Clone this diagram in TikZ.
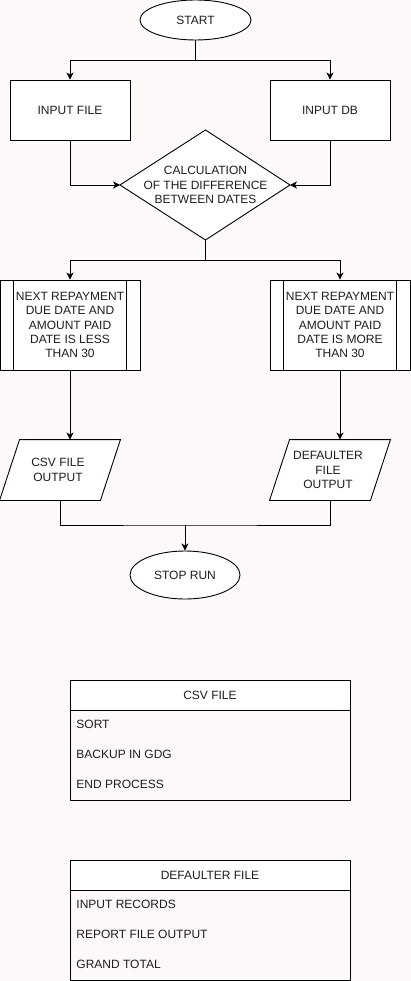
\documentclass[tikz,border=0pt]{standalone}
\usepackage{fontspec}
\setmainfont{Liberation Sans}
\usetikzlibrary{arrows.meta,shapes.geometric}
\definecolor{bg}{RGB}{253,249,248}
\definecolor{txt}{RGB}{30,30,30}
\begin{document}
\begin{tikzpicture}[x=1pt,y=-1pt,
  font=\fontsize{12}{14.4}\selectfont, text=txt,
  line width=0.9pt,
  arr/.style={-{Stealth[length=7pt,width=7pt,inset=2pt]}},
  term/.style={ellipse,draw,fill=white,inner sep=0pt},
  procbox/.style={rectangle,draw,fill=white,minimum width=120pt,minimum height=60pt,inner sep=0pt},
  subbox/.style={rectangle,draw,fill=white,minimum width=140pt,minimum height=90pt,inner sep=0pt,align=center},
  iobox/.style={rectangle,draw=none,minimum width=100pt,minimum height=60pt,inner sep=0pt,align=center},
  lbl/.style={anchor=west,inner sep=0pt},
]
\fill[bg] (0,0) rectangle (411,981);
\useasboundingbox (0,0) rectangle (411,981);

% start
\node[term,minimum width=111pt,minimum height=40pt] (start) at (195.5,20) {START};
\coordinate (j1) at (195.5,60);

\node[procbox] (infile) at (70,110) {INPUT FILE};
\node[procbox] (indb) at (330,110) {INPUT DB};

% diamond
\coordinate (calcL) at (120,185);
\coordinate (calcR) at (290,185);
\coordinate (calcT) at (205.5,130);
\coordinate (calcB) at (205.5,240);
\draw[fill=white] (calcL) -- (calcT) -- (calcR) -- (calcB) -- cycle;
\node[align=center,inner sep=0pt] (calc) at (205.5,185) {CALCULATION\\OF THE DIFFERENCE\\BETWEEN DATES};
\coordinate (j2) at (205.5,260);

% process boxes
\node[subbox,font=\fontsize{12}{14.25}\selectfont] (less) at (70,325) {NEXT REPAYMENT\\DUE DATE AND\\AMOUNT PAID\\DATE IS LESS\\THAN 30};
\draw ([xshift=14pt]less.north west) -- ([xshift=14pt]less.south west);
\draw ([xshift=-14pt]less.north east) -- ([xshift=-14pt]less.south east);
\node[subbox,font=\fontsize{12}{14.25}\selectfont] (more) at (340,325) {NEXT REPAYMENT\\DUE DATE AND\\AMOUNT PAID\\DATE IS MORE\\THAN 30};
\draw ([xshift=14pt]more.north west) -- ([xshift=14pt]more.south west);
\draw ([xshift=-14pt]more.north east) -- ([xshift=-14pt]more.south east);

% io
\node[iobox] (csv) at (60,470) {};
\draw[fill=white] ([xshift=10pt]csv.north west) -- ([xshift=10pt]csv.north east)
  -- ([xshift=-10pt]csv.south east) -- ([xshift=-10pt]csv.south west) -- cycle;
\node[align=center,inner sep=0pt] (csvt) at (58,470) {CSV FILE\\OUTPUT};
\node[iobox] (def) at (330,470) {};
\draw[fill=white] ([xshift=10pt]def.north west) -- ([xshift=10pt]def.north east)
  -- ([xshift=-10pt]def.south east) -- ([xshift=-10pt]def.south west) -- cycle;
\node[align=center,inner sep=0pt] (deft) at (328,470) {DEFAULTER\\FILE\\OUTPUT};
\coordinate (j3) at (185,525);

\node[term,minimum width=110pt,minimum height=48pt] (stop) at (185,575) {STOP RUN};

% connectors
\draw (start.south) -- (j1);
\draw[arr] (j1) -| (infile.north);
\draw[arr] (j1) -| (indb.north);
\draw[arr] (infile.south) |- (calcL);
\draw[arr] (indb.south) |- (calcR);
\draw (calcB) -- (j2);
\draw[arr] (j2) -| (less.north);
\draw[arr] (j2) -| (more.north);
\draw[arr] (less.south) -- (less.south |- csv.north);
\draw[arr] (more.south) -- (more.south |- def.north);
\draw (csv.south) |- (j3) -| (def.south);
\draw[arr] (j3) -- (stop.north);

% CSV FILE table
\draw[fill=bg] (70,680) rectangle (350,800);
\draw[fill=white] (70,680) rectangle (350,710);
\node (csvh) at (210,695) {CSV FILE};
\node[lbl] (c1) at (76,724.5) {SORT};
\node[lbl] (c2) at (76,754.5) {BACKUP IN GDG};
\node[lbl] (c3) at (76,784.5) {END PROCESS};

% DEFAULTER FILE table
\draw[fill=bg] (70,860) rectangle (350,980);
\draw[fill=white] (70,860) rectangle (350,890);
\node (defh) at (210,875) {DEFAULTER FILE};
\node[lbl] (d1) at (76,904.5) {INPUT RECORDS};
\node[lbl] (d2) at (76,934.5) {REPORT FILE OUTPUT};
\node[lbl] (d3) at (76,964.5) {GRAND TOTAL};
\end{tikzpicture}
\end{document}
